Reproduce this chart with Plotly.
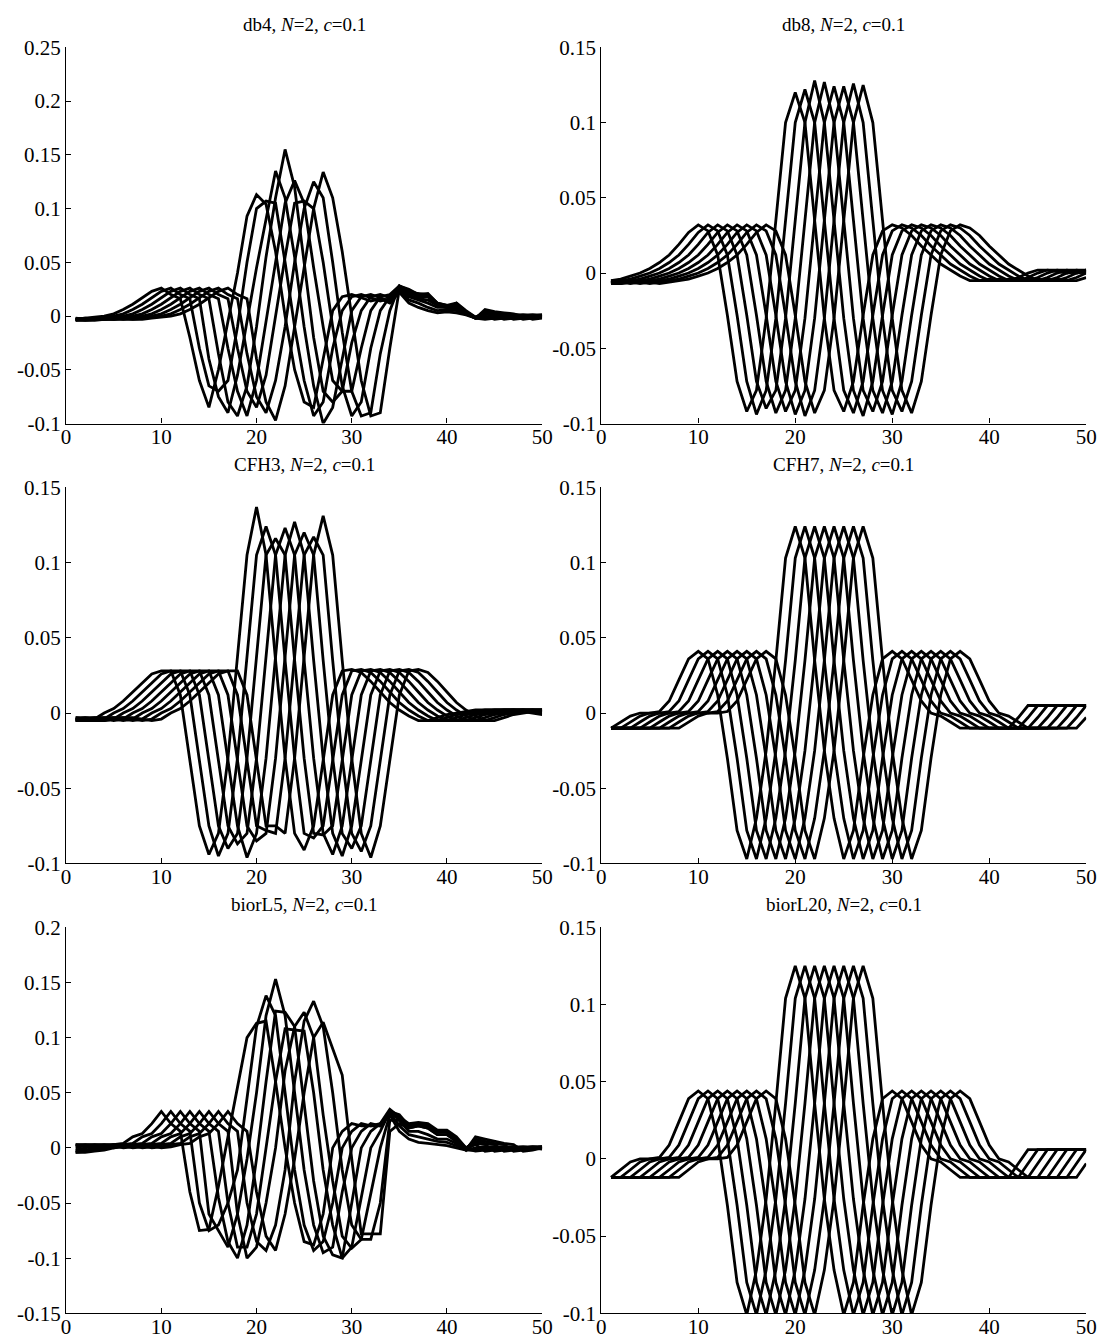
import plotly.graph_objects as go

# ---------------- data ----------------
X = list(range(1, 51))
SHIFTS = [0, 1, 2, 3, 4, 5, 6, 7]          # each curve is centred at 20 + shift
D_START = -26                             # offset of first value in the base shapes

TITLES = ["db4, <i>N</i>=2, <i>c</i>=0.1", "db8, <i>N</i>=2, <i>c</i>=0.1",
          "CFH3, <i>N</i>=2, <i>c</i>=0.1", "CFH7, <i>N</i>=2, <i>c</i>=0.1",
          "biorL5, <i>N</i>=2, <i>c</i>=0.1", "biorL20, <i>N</i>=2, <i>c</i>=0.1"]

X_TICKS = [0, 10, 20, 30, 40, 50]
Y_TICKS_A = [-0.1, -0.05, 0, 0.05, 0.1, 0.15, 0.2, 0.25]
Y_TEXT_A = ["-0.1", "-0.05", "0", "0.05", "0.1", "0.15", "0.2", "0.25"]
Y_TICKS_B = [-0.1, -0.05, 0, 0.05, 0.1, 0.15]
Y_TEXT_B = ["-0.1", "-0.05", "0", "0.05", "0.1", "0.15"]
Y_TICKS_C = [-0.15, -0.1, -0.05, 0, 0.05, 0.1, 0.15, 0.2]
Y_TEXT_C = ["-0.15", "-0.1", "-0.05", "0", "0.05", "0.1", "0.15", "0.2"]

# base shapes, offsets -26 .. +30 relative to the curve centre
db4_base = [-0.003, -0.004, -0.004, -0.003, -0.003, -0.002, -0.003,
            -0.003, -0.002, -0.001, 0.000, 0.002, 0.006, 0.011, 0.017, 0.023, 0.026, 0.020, 0.016,
            -0.030, -0.075, -0.085, -0.060, -0.010, 0.045, 0.095, 0.120, 0.100, 0.050, -0.010, -0.060, -0.090, -0.075, -0.030,
            0.005, 0.018, 0.020, 0.017, 0.014, 0.016, 0.012, 0.010, 0.008, 0.006, 0.004, 0.003, 0.002,
            0.000, -0.003, -0.002, -0.001, 0.000, 0.001, 0.001, 0.000, 0.000, 0.000]
db4_cores = [  # offsets -7 .. +7 for each curve
    [-0.020, -0.060, -0.085, -0.050, -0.005, 0.040, 0.093, 0.113, 0.104, 0.060, 0.000, -0.050, -0.080, -0.085, -0.040],
    [-0.030, -0.065, -0.070, -0.060, -0.010, 0.050, 0.100, 0.107, 0.105, 0.050, -0.010, -0.060, -0.093, -0.080, -0.030],
    [-0.040, -0.075, -0.090, -0.055, -0.005, 0.045, 0.090, 0.135, 0.110, 0.055, -0.010, -0.065, -0.100, -0.085, -0.040],
    [-0.035, -0.080, -0.093, -0.065, -0.010, 0.055, 0.110, 0.155, 0.120, 0.050, -0.020, -0.070, -0.080, -0.070, -0.025],
    [-0.030, -0.070, -0.093, -0.060, -0.005, 0.050, 0.105, 0.126, 0.105, 0.045, -0.010, -0.060, -0.070, -0.070, -0.030],
    [-0.030, -0.070, -0.085, -0.055, 0.000, 0.055, 0.105, 0.107, 0.100, 0.050, -0.010, -0.065, -0.093, -0.080, -0.030],
    [-0.035, -0.075, -0.090, -0.060, -0.010, 0.050, 0.100, 0.125, 0.110, 0.050, -0.015, -0.070, -0.093, -0.090, -0.035],
    [-0.040, -0.080, -0.097, -0.065, -0.010, 0.045, 0.100, 0.134, 0.110, 0.060, 0.000, -0.060, -0.093, -0.090, -0.030],
]
db4_right_x = [35, 36, 37, 38, 39, 40, 41, 42, 43]
db4_right = [
    [0.022, 0.012, 0.008, 0.005, 0.003, 0.004, 0.003, 0.001, -0.002],
    [0.024, 0.015, 0.012, 0.008, 0.005, 0.006, 0.005, 0.002, -0.002],
    [0.026, 0.018, 0.015, 0.012, 0.008, 0.008, 0.008, 0.003, -0.002],
    [0.028, 0.022, 0.018, 0.018, 0.010, 0.010, 0.010, 0.004, -0.002],
    [0.028, 0.024, 0.020, 0.020, 0.012, 0.010, 0.012, 0.005, -0.001],
    [0.026, 0.022, 0.021, 0.020, 0.010, 0.008, 0.012, 0.004, -0.001],
    [0.028, 0.025, 0.020, 0.021, 0.012, 0.010, 0.010, 0.003, -0.002],
    [0.025, 0.020, 0.016, 0.015, 0.010, 0.008, 0.006, 0.002, -0.002],
]

db8_base = [-0.007, -0.007, -0.006, -0.005, -0.006, -0.007, -0.006,
            -0.005, -0.004, -0.002, 0.000, 0.003, 0.007, 0.012, 0.019, 0.027, 0.032, 0.028, 0.012,
            -0.028, -0.072, -0.092, -0.078, -0.030, 0.035, 0.100, 0.124, 0.100, 0.035, -0.030, -0.078, -0.092, -0.072, -0.028,
            0.012, 0.028, 0.032, 0.030, 0.025, 0.018, 0.012, 0.006, 0.002, -0.002, -0.005, -0.005,
            -0.004, -0.005, -0.005, -0.003, 0.000, 0.002, 0.002, 0.001, 0.000, 0.001, 0.002]
db8_peaks = [0.120, 0.122, 0.128, 0.127, 0.124, 0.124, 0.126, 0.125]
db8_trough_l = [-0.092, -0.094, -0.090, -0.093, -0.092, -0.094, -0.095, -0.093]
db8_trough_r = [-0.092, -0.093, -0.095, -0.092, -0.093, -0.094, -0.092, -0.093]

cfh3_base = [-0.004, -0.005, -0.005, -0.005, -0.004, -0.003, -0.003,
             -0.004, -0.005, -0.004, 0.000, 0.003, 0.008, 0.014, 0.020, 0.026, 0.028, 0.028, 0.012,
             -0.030, -0.075, -0.093, -0.080, -0.030, 0.035, 0.105, 0.124, 0.105, 0.035, -0.030, -0.080, -0.093, -0.075, -0.030,
             0.012, 0.028, 0.029, 0.027, 0.021, 0.014, 0.007, 0.002, -0.002, -0.005, -0.005, -0.003,
             -0.001, 0.000, 0.001, 0.002, 0.002, 0.002, 0.002, 0.002, 0.001, 0.000, -0.001]
cfh3_peaks = [0.137, 0.124, 0.116, 0.123, 0.127, 0.120, 0.117, 0.131]
cfh3_trough_l = [-0.094, -0.095, -0.090, -0.087, -0.096, -0.085, -0.078, -0.075]
cfh3_trough_r = [-0.091, -0.083, -0.081, -0.094, -0.095, -0.090, -0.092, -0.096]

cfh7_base = [-0.010, -0.010, -0.010, -0.010, -0.010, -0.010, -0.010,
             -0.010, -0.006, -0.002, 0.000, 0.000, 0.001, 0.008, 0.022, 0.036, 0.041, 0.036, 0.012,
             -0.030, -0.078, -0.097, -0.070, -0.025, 0.035, 0.103, 0.124, 0.103, 0.035, -0.025, -0.070, -0.097, -0.078, -0.030,
             0.012, 0.036, 0.041, 0.036, 0.022, 0.008, 0.000, -0.002, -0.006, -0.010, -0.010, -0.010,
             -0.010, -0.010, -0.010, -0.003, 0.005, 0.005, 0.005, 0.005, 0.005, 0.005, 0.005]

biorL20_base = [-0.012, -0.012, -0.012, -0.012, -0.012, -0.012, -0.012,
                -0.012, -0.007, -0.002, 0.000, 0.000, 0.001, 0.009, 0.024, 0.039, 0.044, 0.039, 0.013,
                -0.030, -0.080, -0.101, -0.072, -0.026, 0.036, 0.104, 0.125, 0.104, 0.036, -0.026, -0.072, -0.101, -0.080, -0.030,
                0.013, 0.039, 0.044, 0.039, 0.024, 0.009, 0.000, -0.002, -0.007, -0.012, -0.012, -0.012,
                -0.012, -0.012, -0.012, -0.003, 0.006, 0.006, 0.006, 0.006, 0.006, 0.006, 0.006]

biorL5_base = [-0.004, -0.004, -0.003, -0.002, 0.000, 0.002, 0.003,
               0.003, 0.002, 0.000, 0.001, 0.003, 0.004, 0.010, 0.013, 0.022, 0.033, 0.022, 0.015,
               -0.030, -0.070, -0.085, -0.060, -0.015, 0.045, 0.100, 0.120, 0.100, 0.045, -0.015, -0.060, -0.085, -0.070, -0.030,
               0.000, 0.015, 0.022, 0.020, 0.020, 0.022, 0.018, 0.012, 0.010, 0.008, 0.006, 0.004, 0.003,
               -0.003, -0.002, 0.000, 0.001, 0.001, 0.000, -0.001, 0.000, 0.001, 0.001]
biorL5_cores = [
    [-0.040, -0.075, -0.074, -0.035, 0.010, 0.055, 0.100, 0.113, 0.115, 0.060, 0.000, -0.050, -0.085, -0.088, -0.060],
    [-0.050, -0.075, -0.070, -0.050, -0.020, 0.045, 0.110, 0.138, 0.120, 0.050, -0.020, -0.070, -0.093, -0.085, -0.050],
    [-0.060, -0.075, -0.090, -0.060, -0.010, 0.050, 0.120, 0.153, 0.120, 0.050, -0.020, -0.070, -0.095, -0.090, -0.040],
    [-0.045, -0.085, -0.100, -0.070, -0.010, 0.060, 0.124, 0.123, 0.110, 0.040, -0.030, -0.080, -0.097, -0.100, -0.050],
    [-0.050, -0.090, -0.090, -0.060, 0.000, 0.060, 0.108, 0.107, 0.106, 0.050, -0.020, -0.070, -0.100, -0.090, -0.045],
    [-0.060, -0.100, -0.090, -0.050, 0.000, 0.070, 0.110, 0.123, 0.100, 0.030, -0.030, -0.080, -0.091, -0.083, -0.040],
    [-0.050, -0.085, -0.093, -0.070, -0.020, 0.060, 0.115, 0.133, 0.110, 0.050, -0.020, -0.070, -0.083, -0.083, -0.050],
    [-0.040, -0.080, -0.093, -0.060, -0.010, 0.050, 0.100, 0.114, 0.090, 0.066, -0.010, -0.078, -0.078, -0.078, -0.020],
]
biorL5_right_x = [34, 35, 36, 37, 38, 39, 40, 41, 42]
biorL5_right = [
    [0.030, 0.015, 0.008, 0.005, 0.004, 0.003, 0.002, 0.000, -0.002],
    [0.032, 0.020, 0.012, 0.010, 0.008, 0.006, 0.005, 0.002, -0.002],
    [0.034, 0.025, 0.015, 0.015, 0.012, 0.008, 0.008, 0.004, -0.001],
    [0.035, 0.028, 0.018, 0.020, 0.018, 0.012, 0.012, 0.006, -0.001],
    [0.033, 0.030, 0.020, 0.022, 0.020, 0.014, 0.015, 0.008, 0.000],
    [0.030, 0.028, 0.022, 0.023, 0.022, 0.016, 0.016, 0.010, 0.000],
    [0.025, 0.025, 0.020, 0.022, 0.020, 0.015, 0.014, 0.008, -0.001],
    [0.015, 0.022, 0.018, 0.020, 0.018, 0.012, 0.012, 0.006, -0.002],
]


def build_curve(base, shift, core=None, peak=None, tl=None, tr=None, abs_x=None, abs_y=None):
    centre = 20 + shift
    ys = []
    for x in X:
        d = x - centre
        v = base[d - D_START]
        if core is not None and -7 <= d <= 7:
            v = core[d + 7]
        if peak is not None and d == 0:
            v = peak
        if tl is not None and d == -5:
            v = tl
        if tr is not None and d == 5:
            v = tr
        if abs_x is not None and x in abs_x:
            v = abs_y[abs_x.index(x)]
        ys.append(v)
    return ys


panels = []
panels.append([build_curve(db4_base, s, core=db4_cores[i], abs_x=db4_right_x, abs_y=db4_right[i])
               for i, s in enumerate(SHIFTS)])
panels.append([build_curve(db8_base, s, peak=db8_peaks[i], tl=db8_trough_l[i], tr=db8_trough_r[i])
               for i, s in enumerate(SHIFTS)])
panels.append([build_curve(cfh3_base, s, peak=cfh3_peaks[i], tl=cfh3_trough_l[i], tr=cfh3_trough_r[i])
               for i, s in enumerate(SHIFTS)])
panels.append([build_curve(cfh7_base, s) for s in SHIFTS])
panels.append([build_curve(biorL5_base, s, core=biorL5_cores[i], abs_x=biorL5_right_x, abs_y=biorL5_right[i])
               for i, s in enumerate(SHIFTS)])
panels.append([build_curve(biorL20_base, s) for s in SHIFTS])

Y_RANGES = [[-0.1, 0.25], [-0.1, 0.15], [-0.1, 0.15], [-0.1, 0.15], [-0.15, 0.2], [-0.1, 0.15]]
Y_TICKSETS = [(Y_TICKS_A, Y_TEXT_A), (Y_TICKS_B, Y_TEXT_B), (Y_TICKS_B, Y_TEXT_B),
              (Y_TICKS_B, Y_TEXT_B), (Y_TICKS_C, Y_TEXT_C), (Y_TICKS_B, Y_TEXT_B)]

# ---------------- layout ----------------
W, H = 1111, 1342
col_px = [(62, 545), (605, 1097)]
row_px = [(36, 419), (484, 867), (932, 1325)]

fig = go.Figure()
FONT = "Liberation Serif, Times New Roman, serif"

for p in range(6):
    r, c = divmod(p, 2)
    xa = "x" if p == 0 else f"x{p+1}"
    ya = "y" if p == 0 else f"y{p+1}"
    for ys in panels[p]:
        fig.add_trace(go.Scatter(x=X, y=ys, mode="lines", xaxis=xa, yaxis=ya,
                                 line=dict(color="black", width=2.8), showlegend=False,
                                 hoverinfo="skip"))
    x0, x1 = col_px[c]
    yt, yb = row_px[r]
    xkey = "xaxis" if p == 0 else f"xaxis{p+1}"
    ykey = "yaxis" if p == 0 else f"yaxis{p+1}"
    fig.layout[xkey] = dict(domain=[x0 / W, x1 / W], anchor=ya, range=[0, 50],
                            tickvals=X_TICKS, ticks="inside", ticklen=5, tickcolor="black",
                            ticklabelstandoff=-6,
                            showline=True, linecolor="black", linewidth=1.2, showgrid=False,
                            zeroline=False, tickfont=dict(family=FONT, size=21, color="black"))
    tv, tt = Y_TICKSETS[p]
    fig.layout[ykey] = dict(domain=[1 - yb / H, 1 - yt / H], anchor=xa, range=Y_RANGES[p],
                            tickvals=tv, ticktext=tt, ticks="inside", ticklen=5, tickcolor="black",
                            showline=True, linecolor="black", linewidth=1.2, showgrid=False,
                            zeroline=False, tickfont=dict(family=FONT, size=21, color="black"))
    fig.add_annotation(text=TITLES[p], xref="paper", yref="paper",
                       x=(x0 + x1) / 2 / W, y=1 - (yt - 11) / H, xanchor="center", yanchor="bottom",
                       showarrow=False, font=dict(family=FONT, size=19, color="black"))

fig.update_layout(width=W, height=H, margin=dict(l=0, r=0, t=0, b=0),
                  paper_bgcolor="white", plot_bgcolor="white")

fig.write_html("out.html")
